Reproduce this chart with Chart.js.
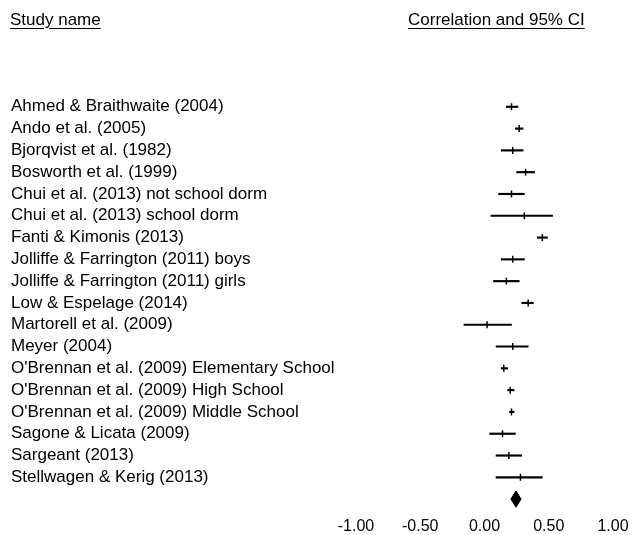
<!DOCTYPE html>
<html>
<head>
<meta charset="utf-8">
<script src="https://cdn.jsdelivr.net/npm/chart.js@4/dist/chart.umd.min.js"></script>
<style>
  body { margin: 0; background: #fff; }
  #container { position: relative; width: 632px; height: 535px; }
  .hdr {
    position: absolute; top: 10px; line-height: normal; white-space: nowrap;
    font: 17px "Liberation Sans", Arial, sans-serif; color: #000;
    text-decoration: underline; text-underline-offset: 3px;
  }
</style>
</head>
<body>
<div id="container">
  <canvas id="forest"></canvas>
  <div class="hdr" style="left:10px">Study name</div>
  <div class="hdr" style="left:408px">Correlation and 95% CI</div>
</div>
<script>
// Study data (correlation, lower and upper 95% CI)
const studies = [
  'Ahmed & Braithwaite (2004)',
  'Ando et al. (2005)',
  'Bjorqvist et al. (1982)',
  'Bosworth et al. (1999)',
  'Chui et al. (2013) not school dorm',
  'Chui et al. (2013) school dorm',
  'Fanti & Kimonis (2013)',
  'Jolliffe & Farrington (2011) boys',
  'Jolliffe & Farrington (2011) girls',
  'Low & Espelage (2014)',
  'Martorell et al. (2009)',
  'Meyer (2004)',
  "O'Brennan et al. (2009) Elementary School",
  "O'Brennan et al. (2009) High School",
  "O'Brennan et al. (2009) Middle School",
  'Sagone & Licata (2009)',
  'Sargeant (2013)',
  'Stellwagen & Kerig (2013)'
];
const correlations = [0.21, 0.27, 0.22, 0.32, 0.21, 0.31, 0.45, 0.22, 0.17, 0.34, 0.02, 0.22, 0.15, 0.20, 0.21, 0.14, 0.19, 0.28];
const lowerCI      = [0.17, 0.24, 0.13, 0.25, 0.11, 0.05, 0.41, 0.13, 0.07, 0.29, -0.16, 0.09, 0.13, 0.18, 0.195, 0.04, 0.09, 0.09];
const upperCI      = [0.26, 0.30, 0.30, 0.39, 0.31, 0.53, 0.49, 0.31, 0.27, 0.38, 0.21, 0.34, 0.18, 0.23, 0.23, 0.24, 0.29, 0.45];

// Pooled estimate
const pooled = { r: 0.245, lo: 0.205, hi: 0.285 };
const xTicks = [-1, -0.5, 0, 0.5, 1];

const summaryRow = studies.length + 1;
const DIAMOND_HALF = 0.37; // half height of the diamond in rows

const ciData = studies.map((_, i) => ({ y: i + 1, x: [lowerCI[i], upperCI[i]] }));
const pointData = studies.map((_, i) => ({ x: correlations[i], y: i + 1 }));

const FONT = '"Liberation Sans", Arial, sans-serif';

// diamond is drawn as two filled halves around the summary row
function diamondHalf(sign) {
  return {
    type: 'scatter',
    showLine: true,
    data: [
      { x: pooled.lo, y: summaryRow },
      { x: pooled.r, y: summaryRow + sign * DIAMOND_HALF },
      { x: pooled.hi, y: summaryRow }
    ],
    borderColor: '#000',
    borderWidth: 1,
    backgroundColor: '#000',
    fill: { value: summaryRow },
    pointRadius: 0
  };
}

new Chart(document.getElementById('forest'), {
  data: {
    datasets: [
      {
        type: 'bar',
        indexAxis: 'y',
        data: ciData,
        backgroundColor: '#000',
        barThickness: 1.5
      },
      {
        type: 'scatter',
        data: pointData,
        pointStyle: 'line',
        rotation: 90,
        radius: 3.5,
        borderColor: '#000',
        borderWidth: 1.5
      },
      diamondHalf(-1),
      diamondHalf(1)
    ]
  },
  options: {
    responsive: true,
    maintainAspectRatio: false,
    animation: false,
    layout: { padding: { left: 11, right: 19, top: 85, bottom: 0 } },
    plugins: {
      legend: { display: false },
      tooltip: { enabled: false }
    },
    scales: {
      x: {
        type: 'linear',
        min: -1,
        max: 1,
        offset: false,
        afterBuildTicks: axis => { axis.ticks = xTicks.map(v => ({ value: v })); },
        afterFit: axis => {
          axis.height = 25;
          axis.paddingLeft = 0;
          axis.paddingRight = 0;
        },
        grid: { display: false, drawTicks: false },
        border: { display: false },
        ticks: {
          padding: 7,
          color: '#000',
          maxRotation: 0,
          font: { family: FONT, size: 16 },
          callback: v => v.toFixed(2)
        }
      },
      y: {
        type: 'linear',
        reverse: true,
        min: 0,
        max: summaryRow + 0.5,
        offset: false,
        afterBuildTicks: axis => { axis.ticks = studies.map((_, i) => ({ value: i + 1 })); },
        afterFit: axis => {
          axis.width = 345;
          axis.paddingTop = 0;
          axis.paddingBottom = 0;
        },
        grid: { display: false, drawTicks: false },
        border: { display: false },
        ticks: {
          crossAlign: 'far',
          autoSkip: false,
          color: '#000',
          font: { family: FONT, size: 17 },
          callback: v => studies[v - 1] || ''
        }
      }
    }
  }
});
</script>
</body>
</html>
